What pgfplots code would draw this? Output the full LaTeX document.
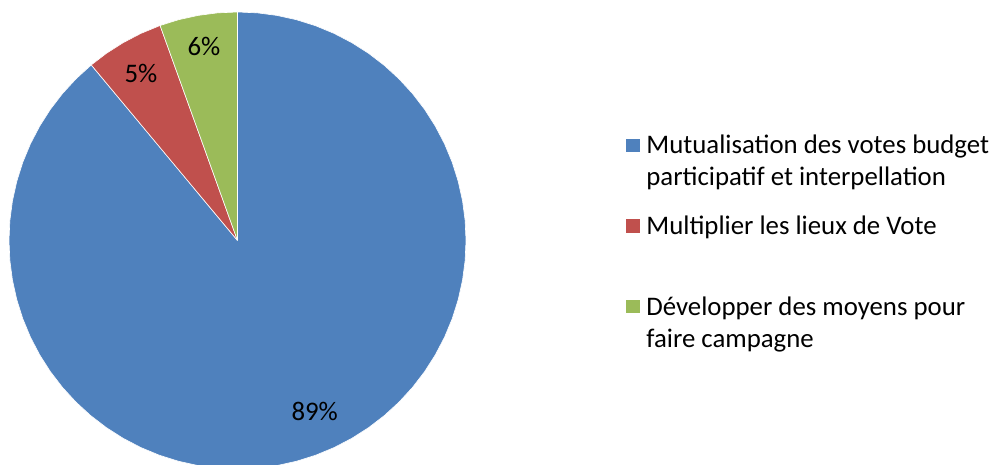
\documentclass[border=0pt]{standalone}
\usepackage{pgfplots}
\pgfplotsset{compat=1.18}
\usepackage{fontspec}
\setmainfont{Carlito}
\definecolor{pieblue}{HTML}{4F81BD}
\definecolor{piered}{HTML}{C0504D}
\definecolor{piegreen}{HTML}{9BBB59}
\begin{document}
\fontsize{13.4}{15.86}\selectfont
\begin{tikzpicture}
\useasboundingbox (0,0) rectangle (496.5pt,232.5pt);
\begin{axis}[
  at={(0,0)}, anchor=south west,
  x=0.5pt, y=0.5pt,
  xmin=-237.5, xmax=755.5, ymin=-224.5, ymax=240.5,
  hide axis,
  legend style={at={(axis cs:388.5,109.5)}, anchor=north west,
    draw=none, fill=none, inner sep=0pt, outer sep=0pt,
    row sep=27.1pt, column sep=3pt,
    nodes={inner sep=0pt, outer sep=0pt},
    cells={anchor=base west},
    font=\fontsize{13.4}{16.1}\selectfont},
  legend image code/.code={\fill[#1, draw=none] (0pt,0.8pt) rectangle (7.2pt,7.5pt);},
]
% slices in polar data (angle, radius); shares: 88.95 / 5.55 / 5.5 %
\addplot[data cs=polar, fill=pieblue, draw=white, line width=0.3pt] coordinates {
  (0,0) (90,228.5) (85,228.5) (80,228.5) (75,228.5) (70,228.5) (65,228.5)
  (60,228.5) (55,228.5) (50,228.5) (45,228.5) (40,228.5) (35,228.5)
  (30,228.5) (25,228.5) (20,228.5) (15,228.5) (10,228.5) (5,228.5)
  (0,228.5) (-5,228.5) (-10,228.5) (-15,228.5) (-20,228.5) (-25,228.5)
  (-30,228.5) (-35,228.5) (-40,228.5) (-45,228.5) (-50,228.5) (-55,228.5)
  (-60,228.5) (-65,228.5) (-70,228.5) (-75,228.5) (-80,228.5) (-85,228.5)
  (-90,228.5) (-95,228.5) (-100,228.5) (-105,228.5) (-110,228.5) (-115,228.5)
  (-120,228.5) (-125,228.5) (-130,228.5) (-135,228.5) (-140,228.5) (-145,228.5)
  (-150,228.5) (-155,228.5) (-160,228.5) (-165,228.5) (-170,228.5) (-175,228.5)
  (-180,228.5) (-185,228.5) (-190,228.5) (-195,228.5) (-200,228.5) (-205,228.5)
  (-210,228.5) (-215,228.5) (-220,228.5) (-225,228.5) (-230.2,228.5) (0,0)
};
\addlegendentry{\parbox[t]{180pt}{\strut Mutualisation des votes budget\\participatif et interpellation\strut}}
\addplot[data cs=polar, fill=piered, draw=white, line width=0.3pt] coordinates {
  (0,0) (109.8,228.5) (115,228.5) (120,228.5) (125,228.5) (129.8,228.5) (0,0)
};
\addlegendentry{\parbox[t]{180pt}{\strut Multiplier les lieux de Vote\\\strut}}
\addplot[data cs=polar, fill=piegreen, draw=white, line width=0.3pt] coordinates {
  (0,0) (90,228.5) (95,228.5) (100,228.5) (105,228.5) (109.8,228.5) (0,0)
};
\addlegendentry{\parbox[t]{180pt}{\strut Développer des moyens pour\\faire campagne\strut}}
\node at (axis cs:77.2,-170.5) {89\%};
\node at (axis cs:-96.5,167.2) {5\%};
\node at (axis cs:-33.5,193.8) {6\%};
\end{axis}
\end{tikzpicture}
\end{document}
